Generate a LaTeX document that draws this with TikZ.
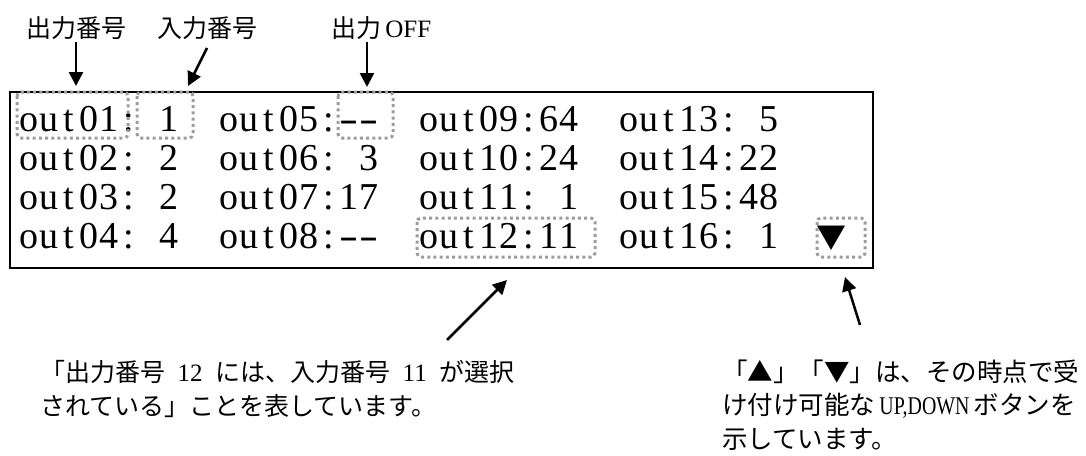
\documentclass[tikz,border=0pt]{standalone}
\usepackage{fontspec}
\setmainfont{Liberation Serif}
\newfontfamily\jp{Noto Sans CJK JP}
\usetikzlibrary{arrows.meta}
\definecolor{dotgray}{HTML}{9C9C9C}

% one half-width cell of the display
\newcommand{\mc}[1]{\makebox[20pt]{#1}}
\newcommand{\lcd}[4]{\mc{o}\mc{u}\mc{t}\mc{#1}\mc{#2}\mc{:}\mc{#3}\mc{#4}}
\newcommand{\dsh}{\scalebox{1.5}[1]{-}}
% half-width numbers inside the notes
\newcommand{\hwnum}[1]{\enspace{\rmfamily #1}\enspace}

\begin{document}
\begin{tikzpicture}[x=1pt, y=-1pt]
		\tikzset{cell/.style={anchor=base west, inner sep=0pt, font=\fontsize{38}{38}\selectfont},
			note/.style={inner sep=0pt, font=\jp\fontsize{25}{33.2}\selectfont},
			hl/.style={draw=dotgray, line width=3pt, dash pattern=on 3pt off 3.2pt, rounded corners=4pt},
			arr/.style={-{Triangle[length=14pt, width=14pt]}, line width=2.5pt}};

		\useasboundingbox (0,0) rectangle (1086,455);

		\node[draw, line width=2pt, minimum width=863pt, minimum height=176pt, inner sep=0pt, anchor=north west] (screen) at (9,91) {};

		\node[cell] (o01) at (19,131) {\lcd{0}{1}{}{1}};
		\node[cell] (o02) at (19,170) {\lcd{0}{2}{}{2}};
		\node[cell] (o03) at (19,209) {\lcd{0}{3}{}{2}};
		\node[cell] (o04) at (19,248) {\lcd{0}{4}{}{4}};
		\node[cell] (o05) at (219,131) {\lcd{0}{5}{\dsh}{\dsh}};
		\node[cell] (o06) at (219,170) {\lcd{0}{6}{}{3}};
		\node[cell] (o07) at (219,209) {\lcd{0}{7}{1}{7}};
		\node[cell] (o08) at (219,248) {\lcd{0}{8}{\dsh}{\dsh}};
		\node[cell] (o09) at (419,131) {\lcd{0}{9}{6}{4}};
		\node[cell] (o10) at (419,170) {\lcd{1}{0}{2}{4}};
		\node[cell] (o11) at (419,209) {\lcd{1}{1}{}{1}};
		\node[cell] (o12) at (419,248) {\lcd{1}{2}{1}{1}};
		\node[cell] (o13) at (619,131) {\lcd{1}{3}{}{5}};
		\node[cell] (o14) at (619,170) {\lcd{1}{4}{2}{2}};
		\node[cell] (o15) at (619,209) {\lcd{1}{5}{4}{8}};
		\node[cell] (o16) at (619,248) {\lcd{1}{6}{}{1}};
		\node[note, font=\jp\fontsize{30}{30}\selectfont] (down) at (831,238) {▼};

		\draw[hl] (17,92) rectangle (128,138);
		\draw[hl] (137,92) rectangle (193,138);
		\draw[hl] (338,92) rectangle (393,138);
		\draw[hl] (417,218) rectangle (595,257);
		\draw[hl] (817,218) rectangle (865,257);

		\node[note] (lout) at (76,28) {出力番号};
		\node[note] (lin) at (207,28) {入力番号};
		\node[note, anchor=west] (loff) at (331,28) {出力\,{\rmfamily OFF}};

		\coordinate (t1) at (76,42);
		\coordinate (h1) at (76,86);
		\coordinate (t2) at (207,48);
		\coordinate (h2) at (188,86);
		\coordinate (t3) at (367,42);
		\coordinate (h3) at (367,87);
		\coordinate (t4) at (447,340);
		\coordinate (h4) at (507,280);
		\coordinate (t5) at (860,325);
		\coordinate (h5) at (845,277);

		\draw[arr] (t1) to (h1);
		\draw[arr] (t2) to (h2);
		\draw[arr] (t3) to (h3);
		\draw[arr] (t4) to (h4);
		\draw[arr] (t5) to (h5);

		\node[note, anchor=base west, align=left] (sel) at (40,415) {「出力番号\hwnum{12}には、入力番号\hwnum{11}が選択\\されている」ことを表しています。};
		\node[note, anchor=base west, align=left, font=\jp\fontsize{25.5}{33.2}\selectfont] (btn) at (722,448) {「▲」「▼」は、その時点で受\\け付け可能な\,\scalebox{0.78}[1]{\rmfamily UP,DOWN}\,ボタンを\\示しています。};

	\end{tikzpicture}
\end{document}
